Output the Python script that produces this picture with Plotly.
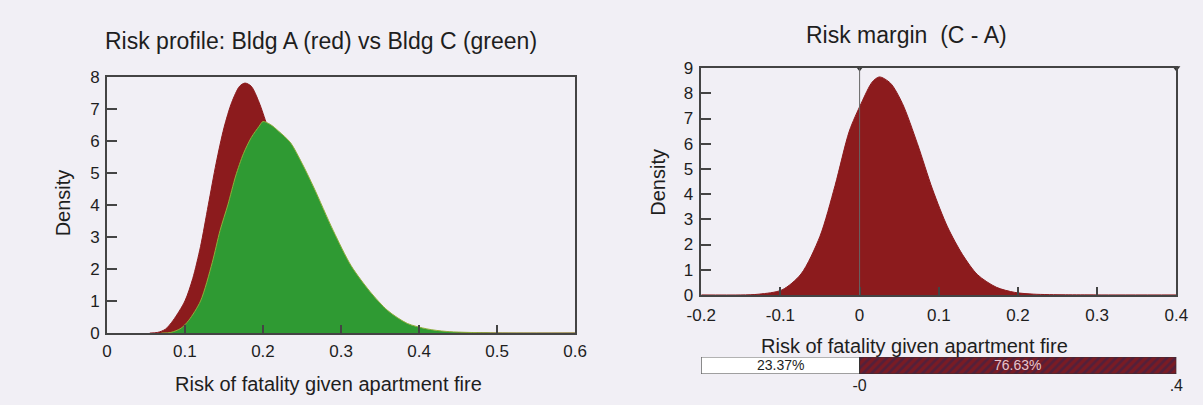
import plotly.graph_objects as go

# ---- Data: left panel (risk profiles) ----
bldg_a_x = [0.055, 0.065, 0.075, 0.085, 0.10, 0.11, 0.12, 0.13, 0.14, 0.15, 0.16, 0.17, 0.177,
            0.185, 0.195, 0.205, 0.215, 0.23, 0.25, 0.28, 0.31, 0.34, 0.38, 0.43, 0.50, 0.60]
bldg_a_y = [0.0, 0.02, 0.12, 0.4, 1.0, 1.7, 2.7, 4.0, 5.3, 6.4, 7.2, 7.7, 7.8,
            7.7, 7.2, 6.5, 5.8, 4.9, 3.8, 2.2, 1.1, 0.5, 0.15, 0.03, 0.0, 0.0]

bldg_c_x = [0.07, 0.082, 0.095, 0.105, 0.12, 0.135, 0.145, 0.155, 0.165, 0.175, 0.185, 0.195,
            0.20, 0.21, 0.22, 0.235, 0.25, 0.265, 0.29, 0.313, 0.337, 0.36, 0.385, 0.41,
            0.435, 0.48, 0.55, 0.60]
bldg_c_y = [0.0, 0.02, 0.15, 0.4, 1.0, 2.2, 3.2, 4.0, 4.9, 5.6, 6.1, 6.45,
            6.6, 6.5, 6.3, 5.95, 5.3, 4.55, 3.2, 2.1, 1.3, 0.7, 0.3, 0.13,
            0.05, 0.01, 0.0, 0.0]

# ---- Data: right panel (margin C - A) ----
margin_x = [-0.2, -0.15, -0.127, -0.098, -0.074, -0.05, -0.031, -0.013, 0.002, 0.016, 0.025,
            0.039, 0.054, 0.073, 0.092, 0.111, 0.13, 0.149, 0.173, 0.196, 0.22, 0.26, 0.3, 0.4]
margin_y = [0.0, 0.0, 0.03, 0.2, 0.83, 2.33, 4.34, 6.5, 7.6, 8.45, 8.65,
            8.4, 7.6, 6.0, 4.2, 2.7, 1.6, 0.8, 0.3, 0.1, 0.03, 0.005, 0.0, 0.0]

# ---- Data: probability bar ----
bar_bounds = [-0.2, 0.0, 0.4]
bar_labels = ["23.37%", "76.63%"]
bar_ticks = [0.0, 0.4]
bar_ticktext = ["-0", ".4"]
marker_x = [0.0, 0.4]
marker_y = [9, 9]

left_xticks = [0, 0.1, 0.2, 0.3, 0.4, 0.5, 0.6]
left_yticks = [0, 1, 2, 3, 4, 5, 6, 7, 8]
right_xticks = [-0.2, -0.1, 0, 0.1, 0.2, 0.3, 0.4]
right_yticks = [0, 1, 2, 3, 4, 5, 6, 7, 8, 9]

RED = "#8c1b1d"
GREEN = "#2f9a33"
BG = "#f1eff5"
AX = "#444444"
TXT = "#1e1e1e"
FONT = "Liberation Sans, Arial, sans-serif"

W, H = 1203, 405

fig = go.Figure()

fig.add_trace(go.Scatter(x=bldg_a_x, y=bldg_a_y, mode="lines", fill="tozeroy",
                         line=dict(color=RED, width=1, shape="spline", smoothing=0.8),
                         fillcolor=RED, xaxis="x", yaxis="y", showlegend=False))
fig.add_trace(go.Scatter(x=bldg_c_x, y=bldg_c_y, mode="lines", fill="tozeroy",
                         line=dict(color="#8fae3a", width=1, shape="spline", smoothing=0.8),
                         fillcolor=GREEN, xaxis="x", yaxis="y", showlegend=False))

fig.add_trace(go.Scatter(x=margin_x, y=margin_y, mode="lines", fill="tozeroy",
                         line=dict(color=RED, width=1, shape="spline", smoothing=0.8),
                         fillcolor=RED, xaxis="x2", yaxis="y2", showlegend=False))
fig.add_trace(go.Scatter(x=marker_x, y=marker_y, mode="markers",
                         marker=dict(symbol="triangle-down", size=7, color="#333"),
                         cliponaxis=False, xaxis="x2", yaxis="y2", showlegend=False))

# probability bar
fig.add_trace(go.Bar(x=[bar_bounds[1] - bar_bounds[0]], base=[bar_bounds[0]], y=[0],
                     orientation="h", width=1,
                     marker=dict(color="white", line=dict(color="#333", width=1)),
                     xaxis="x3", yaxis="y3", showlegend=False))
fig.add_trace(go.Bar(x=[bar_bounds[2] - bar_bounds[1]], base=[bar_bounds[1]], y=[0],
                     orientation="h", width=1,
                     marker=dict(color="#7a1b24", line=dict(color="#333", width=1),
                                 pattern=dict(shape="/", fgcolor="#2c2550", bgcolor="#7a1b24",
                                              size=6, solidity=0.45)),
                     xaxis="x3", yaxis="y3", showlegend=False))


def px_x(p):
    return p / W


def px_y(p):
    return (H - p) / H


axis_common = dict(showgrid=False, zeroline=False, showline=True, linecolor=AX, linewidth=1.5,
                   mirror=True, ticks="inside", tickcolor=AX, tickwidth=1.5,
                   tickfont=dict(size=17, color=TXT, family=FONT))

annotations = [
    dict(text="Risk profile: Bldg A (red) vs Bldg C (green)", x=px_x(313), y=px_y(34),
         xref="paper", yref="paper", showarrow=False, xanchor="center", yanchor="middle",
         font=dict(size=23, color=TXT, family=FONT)),
    dict(text="Risk margin  (C - A)", x=px_x(912), y=px_y(27),
         xref="paper", yref="paper", showarrow=False, xanchor="center", yanchor="middle",
         font=dict(size=23, color=TXT, family=FONT)),
    dict(text="Risk of fatality given apartment fire", x=px_x(321), y=px_y(393),
         xref="paper", yref="paper", showarrow=False, xanchor="center", yanchor="middle",
         font=dict(size=20, color=TXT, family=FONT)),
    dict(text="Risk of fatality given apartment fire", x=px_x(920), y=px_y(354),
         xref="paper", yref="paper", showarrow=False, xanchor="center", yanchor="middle",
         font=dict(size=20, color=TXT, family=FONT)),
    dict(text="Density", x=px_x(50), y=px_y(203), textangle=-90,
         xref="paper", yref="paper", showarrow=False, xanchor="center", yanchor="middle",
         font=dict(size=20, color=TXT, family=FONT)),
    dict(text="Density", x=px_x(658), y=px_y(182), textangle=-90,
         xref="paper", yref="paper", showarrow=False, xanchor="center", yanchor="middle",
         font=dict(size=20, color=TXT, family=FONT)),
]
# percentage labels in bar segments
label_colors = [TXT, "#e6c3cc"]
for i, lab in enumerate(bar_labels):
    annotations.append(dict(text=lab, x=(bar_bounds[i] + bar_bounds[i + 1]) / 2, y=0,
                            xref="x3", yref="y3", showarrow=False, xanchor="center",
                            yanchor="middle",
                            font=dict(size=14, color=label_colors[i], family=FONT)))

fig.update_layout(
    width=W, height=H, autosize=False,
    margin=dict(l=0, r=0, t=0, b=0),
    paper_bgcolor=BG, plot_bgcolor=BG,
    font=dict(family=FONT, color=TXT),
    barmode="overlay",
    xaxis=dict(domain=[px_x(94), px_x(573)], range=[0, 0.6], tickvals=left_xticks,
               ticktext=["0", "0.1", "0.2", "0.3", "0.4", "0.5", "0.6"], ticklen=8,
               anchor="y", ticklabelstandoff=2, **axis_common),
    yaxis=dict(domain=[px_y(340), px_y(71)], range=[0, 8], tickvals=left_yticks, ticklen=10,
               anchor="x", ticklabelstandoff=2, **axis_common),
    xaxis2=dict(domain=[px_x(702), px_x(1188)], range=[-0.2, 0.4], tickvals=right_xticks,
                ticktext=["-0.2", "-0.1", "0", "0.1", "0.2", "0.3", "0.4"], ticklen=8,
                anchor="y2", ticklabelstandoff=4, **axis_common),
    yaxis2=dict(domain=[px_y(300), px_y(62)], range=[0, 9], tickvals=right_yticks, ticklen=10,
                anchor="x2", ticklabelstandoff=3, **axis_common),
    xaxis3=dict(domain=[px_x(702), px_x(1188)], range=[-0.2, 0.4], tickvals=bar_ticks,
                ticktext=bar_ticktext, showgrid=False, zeroline=False, showline=False,
                ticks="", tickfont=dict(size=16, color=TXT, family=FONT), anchor="y3"),
    yaxis3=dict(domain=[px_y(383), px_y(365)], range=[-0.5, 0.5], visible=False, anchor="x3"),
    shapes=[dict(type="line", xref="x2", yref="y2", x0=0, x1=0, y0=0, y1=9,
                 line=dict(color="#666", width=1), layer="above")],
    annotations=annotations,
)

fig.write_html("out.html", config={"displayModeBar": False},
               post_script="document.body.style.margin='0';document.body.style.background='%s';" % BG)
